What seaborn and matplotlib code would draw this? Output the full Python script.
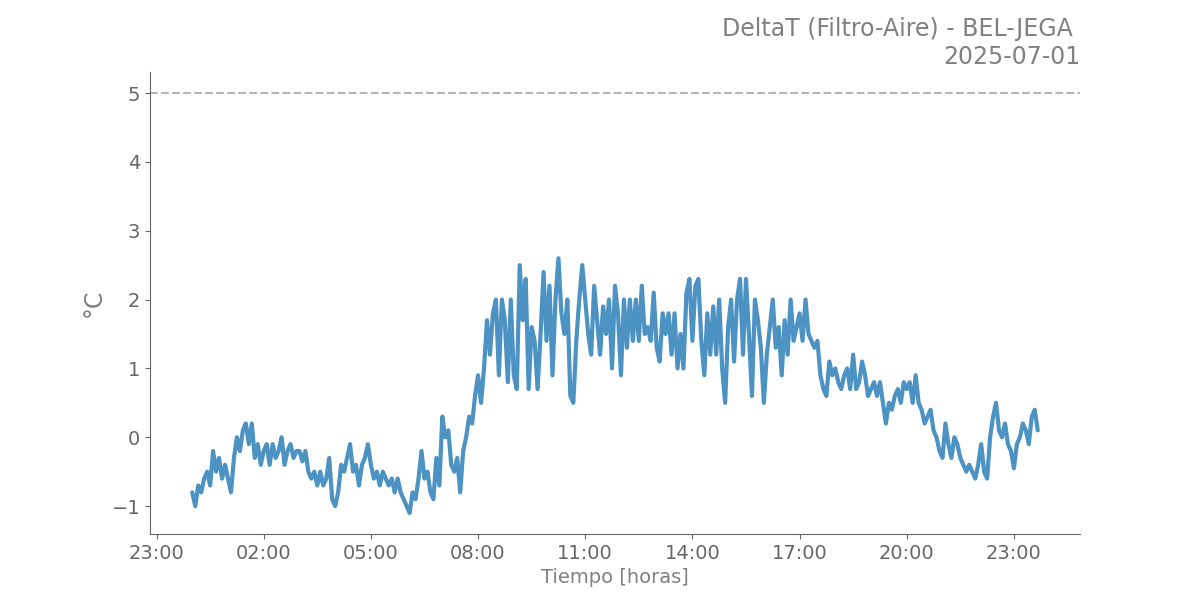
import numpy as np
import pandas as pd
import matplotlib
matplotlib.use("Agg")
import matplotlib.pyplot as plt
import matplotlib.dates as mdates
import seaborn as sns

# ── Data (5-minute readings, 2025-07-01 00:00 -> 23:40) ──────────────────────
START = "2025-07-01 00:00"
STEP = "5min"

h00 = [-0.8, -1.0, -0.7, -0.8, -0.6, -0.5, -0.7, -0.2, -0.5, -0.3, -0.6, -0.4]
h01 = [-0.6, -0.8, -0.3, 0.0, -0.2, 0.1, 0.2, -0.1, 0.2, -0.3, -0.1, -0.4]
h02 = [-0.2, -0.1, -0.4, -0.1, -0.3, -0.2, 0.0, -0.4, -0.2, -0.1, -0.3, -0.2]
h03 = [-0.2, -0.35, -0.2, -0.5, -0.6, -0.5, -0.7, -0.5, -0.7, -0.6, -0.3, -0.9]
h04 = [-1.0, -0.8, -0.4, -0.5, -0.3, -0.1, -0.5, -0.4, -0.7, -0.4, -0.3, -0.1]
h05 = [-0.4, -0.6, -0.5, -0.7, -0.5, -0.6, -0.7, -0.6, -0.8, -0.6, -0.8, -0.9]
h06 = [-1.0, -1.1, -0.8, -0.9, -0.6, -0.2, -0.6, -0.5, -0.8, -0.9, -0.3, -0.7]
h07 = [0.3, 0.0, 0.1, -0.4, -0.5, -0.3, -0.8, -0.2, 0.0, 0.3, 0.2, 0.6]
h08 = [0.9, 0.5, 1.0, 1.7, 1.2, 1.8, 2.0, 0.9, 2.0, 1.7, 0.8, 2.0]
h09 = [0.9, 0.7, 2.5, 1.7, 2.3, 0.7, 1.6, 1.4, 0.7, 1.5, 2.4, 1.4]
h10 = [2.2, 0.9, 2.0, 2.6, 1.8, 1.5, 2.0, 0.6, 0.5, 1.4, 2.0, 2.5]
h11 = [2.0, 1.5, 1.2, 2.2, 1.7, 1.2, 1.9, 1.5, 2.0, 1.0, 2.2, 1.8]
h12 = [0.9, 2.0, 1.3, 2.0, 1.4, 2.0, 1.4, 2.2, 1.5, 1.6, 1.4, 2.1]
h13 = [1.3, 1.1, 1.8, 1.5, 1.8, 1.2, 1.8, 1.0, 1.5, 1.0, 2.1, 2.3]
h14 = [1.4, 2.2, 2.3, 1.4, 0.9, 1.8, 1.2, 1.9, 1.2, 2.0, 1.0, 0.5]
h15 = [1.6, 2.0, 1.1, 2.0, 2.3, 1.2, 2.3, 1.5, 0.6, 2.0, 1.7, 1.3]
h16 = [0.5, 1.2, 1.6, 2.0, 1.3, 1.6, 0.9, 1.7, 1.2, 2.0, 1.4, 1.6]
h17 = [1.8, 1.4, 2.0, 1.5, 1.4, 1.3, 1.4, 0.9, 0.7, 0.6, 1.1, 0.9]
h18 = [1.0, 0.8, 0.7, 0.9, 1.0, 0.7, 1.2, 0.7, 0.8, 1.1, 0.9, 0.6]
h19 = [0.7, 0.8, 0.6, 0.8, 0.5, 0.2, 0.5, 0.4, 0.6, 0.7, 0.5, 0.8]
h20 = [0.7, 0.8, 0.5, 0.9, 0.5, 0.4, 0.2, 0.3, 0.4, 0.1, 0.0, -0.2]
h21 = [-0.3, 0.2, -0.1, -0.3, 0.0, -0.1, -0.3, -0.4, -0.5, -0.4, -0.5, -0.6]
h22 = [-0.4, -0.1, -0.5, -0.6, 0.0, 0.3, 0.5, 0.1, 0.0, 0.2, -0.1, -0.2]
h23 = [-0.45, -0.1, 0.0, 0.2, 0.1, -0.1, 0.3, 0.4, 0.1]

LIMIT = 5

TITLE = "DeltaT (Filtro-Aire) - BEL-JEGA \n2025-07-01"
XLABEL = "Tiempo [horas]"
YLABEL = "°C"
TICK_HOURS = [23, 2, 5, 8, 11, 14, 17, 20]

# ── Build frame ──────────────────────────────────────────────────────────────
delta_t = (h00 + h01 + h02 + h03 + h04 + h05 + h06 + h07 + h08 + h09 + h10 + h11
           + h12 + h13 + h14 + h15 + h16 + h17 + h18 + h19 + h20 + h21 + h22 + h23)
df = pd.DataFrame({
    "tiempo": pd.date_range(START, periods=len(delta_t), freq=STEP),
    "delta_t": delta_t,
})

# ── Style ────────────────────────────────────────────────────────────────────
sns.set_style("ticks")
TEXT = "#808080"
AXIS = "#666666"
plt.rcParams.update({
    "axes.edgecolor": AXIS,
    "xtick.color": AXIS,
    "ytick.color": AXIS,
    "xtick.labelcolor": AXIS,
    "ytick.labelcolor": AXIS,
})

fig, ax = plt.subplots(figsize=(12, 6), dpi=100)
fig.subplots_adjust(left=0.125, right=0.9, bottom=0.11, top=0.88)

sns.lineplot(data=df, x="tiempo", y="delta_t", ax=ax,
             color="#1f77b4", alpha=0.8, linewidth=3)
ax.axhline(LIMIT, color="#b5b5b5", linestyle="--", linewidth=1.5)

ax.xaxis.set_major_locator(mdates.HourLocator(byhour=TICK_HOURS))
ax.xaxis.set_major_formatter(mdates.DateFormatter("%H:%M"))
ax.tick_params(axis="both", labelsize=14)

ax.set_title(TITLE, loc="right", fontsize=17, color=TEXT)
ax.set_xlabel(XLABEL, fontsize=14, color=TEXT)
ax.set_ylabel(YLABEL, fontsize=17, color=TEXT)

sns.despine(ax=ax)

fig.savefig("out.png", dpi=100, facecolor="white")
